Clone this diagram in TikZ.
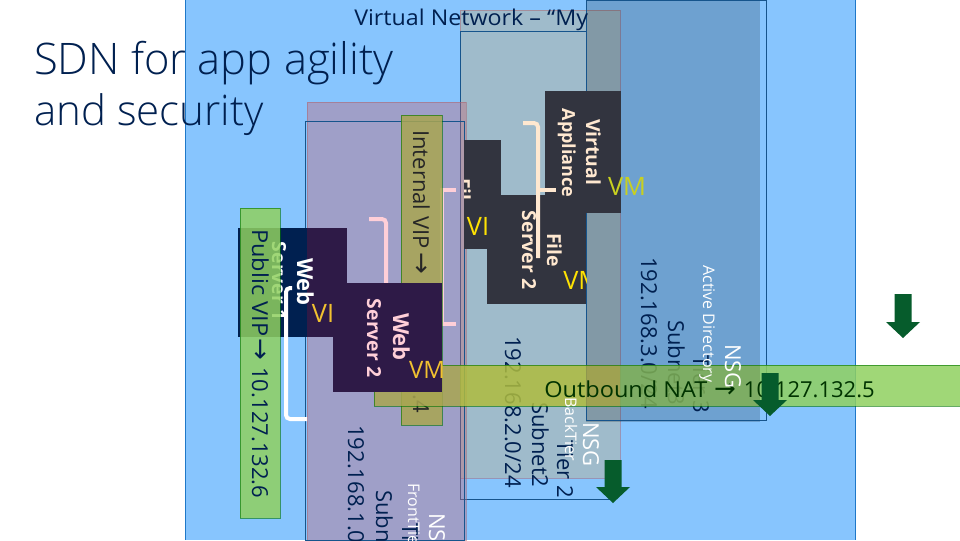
\documentclass[tikz,border=0pt]{standalone}
\usepackage{fontspec}
\setmainfont{Open Sans}
\newfontfamily\titlefont{Open Sans Light}
\newfontfamily\arrowfont{DejaVu Sans}
\newfontfamily\midfont[FakeStretch=1.07]{Open Sans}
\newcommand{\rarr}{{\arrowfont\fontsize{19.5}{20}\selectfont→}}
\definecolor{vnetblue}{HTML}{87C5FE}
\definecolor{edgeblue}{HTML}{1F78C8}
\definecolor{navybox}{HTML}{002050}
\definecolor{purplebox}{HTML}{2E1A47}
\definecolor{slatebox}{HTML}{32343F}
\definecolor{inktext}{HTML}{002050}
\definecolor{vmyellow}{HTML}{F2C230}
\definecolor{vmlime}{HTML}{C8D020}
\definecolor{pinkline}{HTML}{FFCFD8}
\definecolor{creamline}{HTML}{FFE8D0}
\definecolor{arrowgreen}{HTML}{065C2C}
\definecolor{bangreen}{HTML}{90D060}
\definecolor{banolive}{HTML}{A9A651}
\definecolor{banyellow}{HTML}{AFBC3E}
\definecolor{bandark}{HTML}{A5A443}
\definecolor{banmid}{HTML}{80B052}
\tikzset{
  x=0.75pt,y=-0.75pt,
  subnetA/.style={fill={rgb,255:red,197;green,172;blue,127},fill opacity=.4},
  subnetB/.style={fill=black,fill opacity=.18},
  subnetC/.style={fill={rgb,255:red,197;green,102;blue,119},fill opacity=.4},
  redline/.style={draw={rgb,255:red,170;green,100;blue,110},draw opacity=.5,line width=.6pt},
  blueline/.style={draw=edgeblue!70!black,line width=.6pt},
  banner/.style={fill opacity=.85,text opacity=1},
  banneredge/.style={draw=green!45!black,draw opacity=.6,line width=.5pt},
  vtext/.style={rotate=-90,anchor=base west,inner sep=0pt,font=\fontsize{16.5}{20}\selectfont,text=inktext},
  vwhite/.style={vtext,text=white,font=\fontsize{16.5}{20}\selectfont},
  vsmall/.style={vtext,text=white,font=\fontsize{12}{14}\selectfont},
  vbold/.style={rotate=-90,anchor=base,inner sep=0pt,font=\fontsize{14.5}{20}\selectfont\bfseries},
  vboldweb/.style={vbold,font=\fontsize{16.5}{20}\selectfont\bfseries},
  vboldtight/.style={vbold,font=\fontsize{13.5}{20}\selectfont\bfseries},
  vmtag/.style={anchor=center,inner sep=0pt,font=\fontsize{19}{20}\selectfont},
  bracket/.style={line width=3pt,rounded corners=3pt},
}
\begin{document}
\begin{tikzpicture}
\useasboundingbox (0,0) rectangle (960,540);
\clip (0,0) rectangle (960,540);
\fill[white] (0,0) rectangle (960,540);
\fill[vnetblue] (185,0) rectangle (855,540);
\draw[edgeblue,line width=.6pt] (185,0) -- (185,540) (855,0) -- (855,540);
% subnets
\fill[subnetA] (460,10) rectangle (620,478);
\draw[redline] (460,10) rectangle (620,478);
\coordinate (s2a) at (586,31); \coordinate (s2b) at (460,31); \coordinate (s2c) at (460,499); \coordinate (s2d) at (610,499);
\draw[blueline] (s2a) -- (s2b) -- (s2c) -- (s2d);
\fill[subnetB] (586,0) rectangle (760,422);
\draw[blueline] (586,0) rectangle (766,420);
\fill[subnetC] (307,102) rectangle (466,540);
\draw[redline] (307,102) rectangle (466,540);
\draw[blueline] (305,121) rectangle (464,540);
% title texts
\node[anchor=base west,inner sep=0pt,text=inktext,font=\titlefont\fontsize{32.6}{40}\selectfont] (title1) at (34,74) {SDN for app agility};
\node[anchor=base west,inner sep=0pt,text=inktext,font=\titlefont\fontsize{31.5}{40}\selectfont] (title2) at (34,125) {and security};
\node[anchor=base west,inner sep=0pt,text=inktext,font=\midfont\fontsize{16.3}{20}\selectfont] (vnet) at (354,25) {Virtual Network – “My};
% subnet labels under the banners
\node[vtext] (ip3) at (641,257) {192.168.3.0/24};
\node[vtext] (sn3) at (668,320) {Subnet3};
\node[vtext] (ti3) at (693,355) {Tier 3};
\node[vtext] (ip2) at (505,336) {192.168.2.0/24};
\node[vtext] (sn2) at (532,402) {Subnet2};
\node[vtext] (ti2) at (557,440) {Tier 2};
\node[vtext] (ip1) at (348,425) {192.168.1.0/24};
\node[vtext] (sn1) at (376,490) {Subnet1};
\node[vtext] (ti1) at (402,523) {Tier 1};
\node[vsmall] (ft1) at (408,483) {FrontTier};
\node[vwhite] (ns1) at (429,513) {NSG};
% server boxes
\fill[slatebox] (464,140) rectangle (501,249);
\fill[slatebox] (487,195) rectangle (586,304);
\fill[slatebox] (545,91) rectangle (621,213);
\fill[navybox] (238,228) rectangle (307,337);
\fill[purplebox] (307,228) rectangle (347,337);
% file / appliance text
\begin{scope}
\clip (464,100) rectangle (586,320);
\node[vbold,text=creamline,anchor=base west] (fil) at (456,178) {Fil};
\node[vmtag,text=yellow!85!orange] (vi2) at (478,226) {VI};
\node[vmtag,text=yellow!85!orange,anchor=west] (vm2) at (563,280) {VM};
\end{scope}
\node[vbold,text=creamline] (file) at (547,250) {File};
\node[vbold,text=creamline] (sv2) at (522,250) {Server 2};
\node[vbold,text=creamline] (va1) at (586,152) {Virtual};
\node[vboldtight,text=creamline] (va2) at (562,153) {Appliance};
\node[vmtag,text=vmlime] (vm3) at (627,186) {VM};
% brackets
\coordinate (ca) at (523,123); \coordinate (cb) at (538,123); \coordinate (cc) at (538,258);
\coordinate (cd) at (538,190); \coordinate (ce) at (556,190);
\draw[bracket,creamline] (ca) -- (cb) -- (cc);
\draw[line width=3pt,creamline] (cd) -- (ce);
\coordinate (wa) at (307,419); \coordinate (wb) at (286,419); \coordinate (wc) at (286,288); \coordinate (wd) at (292,288);
\draw[bracket,white] (wa) -- (wb) -- (wc) -- (wd);
\coordinate (pa) at (369,219); \coordinate (pb) at (386,219); \coordinate (pc) at (386,290);
\draw[bracket,pinkline] (pa) -- (pb) -- (pc);
\coordinate (qa) at (456,190); \coordinate (qb) at (442,190); \coordinate (qc) at (442,324); \coordinate (qd) at (456,324);
\draw[line width=3pt,pinkline] (qa) -- (qb) -- (qc) -- (qd);
% web 1 text
\node[vboldweb,text=white] (w1a) at (297,282) {Web};
\node[vbold,text=white] (w1b) at (272,281) {Server 1};
\node[vmtag,text=vmyellow] (vi1) at (323,313) {VI};
% banners
\path[banner,fill=bangreen] (240,208) rectangle (280,518);
\draw[banneredge] (240,208) rectangle (280,518);
\node[vtext,text=inktext,font=\midfont\fontsize{16.5}{20}\selectfont] (pub) at (252,229) {Public VIP\hspace{2pt}\rarr\hspace{5pt}{\fontspec{Open Sans}10.127.132.6}};
\path[banner,fill=banolive] (401,115) rectangle (442,425);
\draw[banneredge] (401,115) rectangle (442,425);
\node[vtext,text=black!85] (int) at (413,130) {Internal VIP\hspace{3pt}\rarr};
\node[vtext,text=black!85] (dot4) at (413,394) {.4};
\path[banner,fill=banolive] (374,365) rectangle (460,406);
\path[banner,fill=banyellow] (460,365) rectangle (586,406);
\path[banner,fill=bandark] (586,365) rectangle (620,406);
\path[banner,fill=banmid] (620,365) rectangle (760,406);
\path[banner,fill=bangreen] (760,365) rectangle (960,406);
\draw[banneredge] (374,365) rectangle (961,406);
\node[anchor=base west,inner sep=0pt,text=black!80!green,font=\midfont\fontsize{16.5}{20}\selectfont] (nat) at (544,397) {Outbound NAT\hspace{5pt}\rarr\hspace{6pt}{\fontspec{Open Sans}10.127.132.5}};
% white labels above the banner
\node[vsmall] (ad3) at (703,265) {Active Directory};
\node[vwhite] (ns3) at (725,344) {NSG};
\node[vsmall] (bt2) at (565,397) {BackTier};
\node[vwhite] (ns2) at (583,422) {NSG};
% web 2
\fill[purplebox] (333,283) rectangle (442,392);
\node[vboldweb,text=pinkline] (w2a) at (393,337) {Web};
\node[vbold,text=pinkline] (w2b) at (367,338) {Server 2};
\node[vmtag,text=vmyellow,font=\fontsize{18}{20}\selectfont] (vm1) at (427,370) {VM};
% NSG arrows
\foreach \c/\t/\s in {903/338/294, 770/416/373, 613/503/460}{
  \fill[arrowgreen] (\c-8.5,\s) -- (\c+8.5,\s) -- (\c+8.5,\t-16) -- (\c+17,\t-16) -- (\c,\t) -- (\c-17,\t-16) -- (\c-8.5,\t-16) -- cycle;
}
\end{tikzpicture}
\end{document}
